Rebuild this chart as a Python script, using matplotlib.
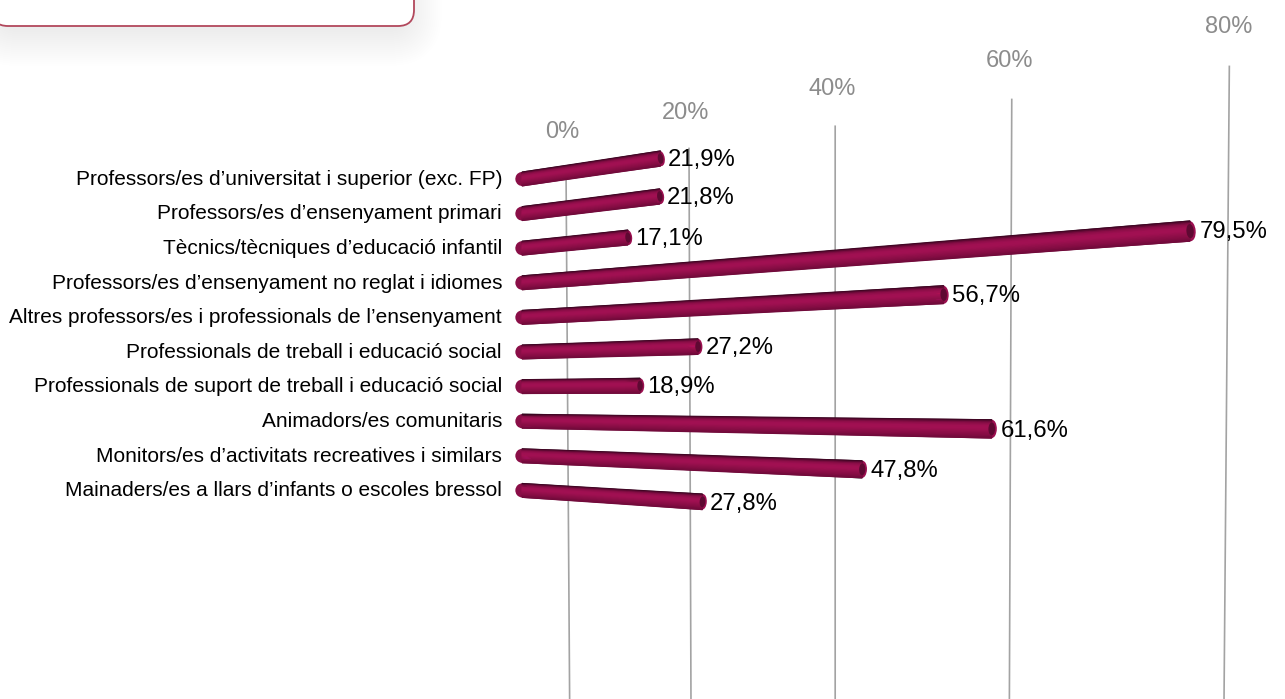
import numpy as np
import matplotlib
matplotlib.use('Agg')
import matplotlib.pyplot as plt
from matplotlib.colors import LinearSegmentedColormap
from matplotlib.patches import Ellipse, FancyBboxPatch

plt.rcParams['font.family'] = ['Liberation Sans', 'DejaVu Sans']

categories = ['Professors/es d’universitat i superior (exc. FP)',
              'Professors/es d’ensenyament primari',
              'Tècnics/tècniques d’educació infantil',
              'Professors/es d’ensenyament no reglat i idiomes',
              'Altres professors/es i professionals de l’ensenyament',
              'Professionals de treball i educació social',
              'Professionals de suport de treball i educació social',
              'Animadors/es comunitaris',
              'Monitors/es d’activitats recreatives i similars',
              'Mainaders/es a llars d’infants o escoles bressol']
values = [21.9, 21.8, 17.1, 79.5, 56.7, 27.2, 18.9, 61.6, 47.8, 27.8]
value_labels = ['21,9%', '21,8%', '17,1%', '79,5%', '56,7%', '27,2%', '18,9%', '61,6%', '47,8%', '27,8%']
ticks = [0, 20, 40, 60, 80]
tick_labels = ['0%', '20%', '40%', '60%', '80%']

# the perspective of the original 3d chart, in pixels
X0 = 522
XV = X0 - 1475
YV = 397
ROW_TOP = 179
ROW_STEP = 34.6
THICK = 14


def bar_x(v):
    return X0 + v / (0.1729 - 0.000678 * v)


def grid_x(v):
    return 566 + v / (0.1766 - 0.0007 * v)


def scale(x):
    return (x - XV) / (X0 - XV)


def row_y(x, y_left):
    return YV + (y_left - YV) * scale(x)


shade = LinearSegmentedColormap.from_list('bar', ['#3c0522', '#8a0e47', '#a01052', '#a21053', '#930f4b', '#850d44', '#700a3a'])

fig = plt.figure(figsize=(12.85, 6.99), dpi=100)
ax = fig.add_axes([0, 0, 1, 1])
ax.set_xlim(0, 1285)
ax.set_ylim(699, 0)
ax.axis('off')

# card cut off at the top left, with its shadow
for grow in np.arange(38, 0, -2):
    ax.add_patch(FancyBboxPatch((-8 + 10 - grow, -60 - grow + 2), 422 - 20 + 2 * grow, 86 + 2 * grow,
                                boxstyle='round,pad=0,rounding_size=%d' % (16 + grow),
                                fc='#000000', ec='none', alpha=0.0032, zorder=1))
ax.add_patch(FancyBboxPatch((-8, -60), 422, 86, boxstyle='round,pad=0,rounding_size=16',
                            fc='white', ec='#b2485c', lw=1.3, zorder=2))

# grid
for t, lab in zip(ticks, tick_labels):
    xt = grid_x(t)
    top = row_y(xt, 173)
    ax.plot([xt, xt + (835 - xt) * 0.0135], [top, 699], color='#a3a3a3', lw=1.2, zorder=3, solid_capstyle='butt')
    ax.text(xt - 4 + 0.005 * (xt - 566), top - 34 - 5 * (xt - 566) / 662, lab,
            color='#8c8c8c', fontsize=17, ha='center', va='center', zorder=3)

# bars
n = 16
f = np.linspace(-0.5, 0.5, n)
for i, (cat, v, lab) in enumerate(zip(categories, values, value_labels)):
    y_left = ROW_TOP + ROW_STEP * i
    xe = bar_x(v)
    ye = row_y(xe, y_left)
    te = THICK * scale(xe)
    angle = np.degrees(np.arctan2(ye - y_left, xe - X0))
    ax.add_patch(Ellipse((X0, y_left), THICK * 0.95, THICK, angle=angle, fc='#8a0e47', ec='none', zorder=4))
    ax.add_patch(Ellipse((xe, ye), te * 0.55, te, angle=angle, fc='#9c0f50', ec='none', zorder=4))
    bx = np.array([np.full(n, X0), np.full(n, xe)], dtype=float)
    by = np.array([y_left + f * THICK, ye + f * te])
    cc = np.array([f + 0.5, f + 0.5])
    ax.pcolormesh(bx, by, cc, cmap=shade, vmin=0, vmax=1, shading='gouraud', zorder=5)
    ax.add_patch(Ellipse((xe, ye), te * 0.36, te * 0.7, angle=angle, fc='#5e0932', ec='none', zorder=6))
    ax.text(502, y_left + 0.3, cat, fontsize=15.05, color='black', ha='right', va='center', zorder=7)
    ax.text(xe + te * 0.5 - 0.5, ye + 1 + 0.12 * i, lab, fontsize=17.2, color='black', ha='left', va='center', zorder=7)

# pcolormesh resets the limits
ax.set_xlim(0, 1285)
ax.set_ylim(699, 0)

fig.savefig('out.png', dpi=100, facecolor='white')
